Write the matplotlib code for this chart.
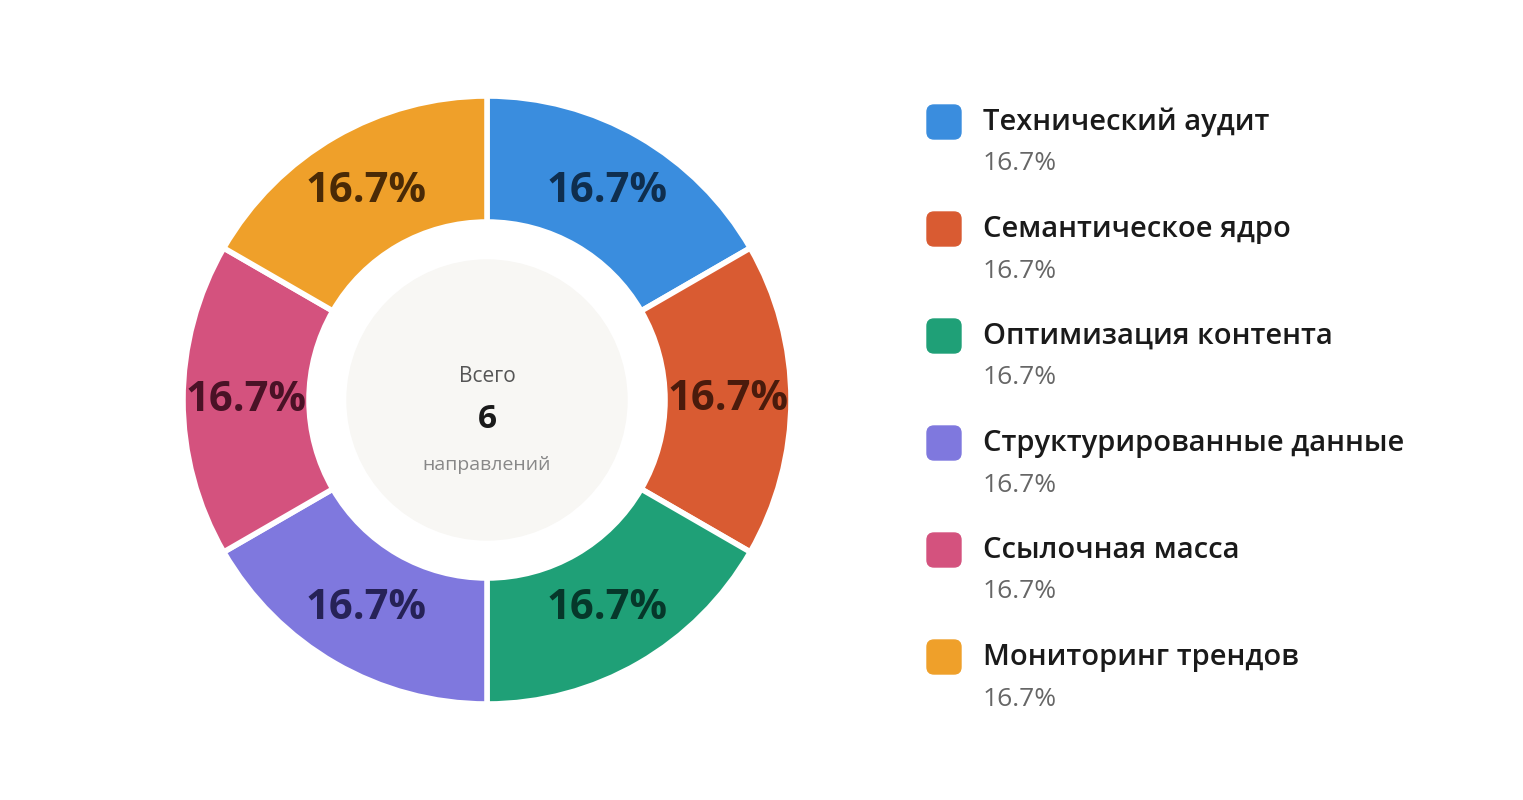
import matplotlib.pyplot as plt
from matplotlib.patches import Circle, FancyBboxPatch

# data
labels = ["Технический аудит", "Семантическое ядро", "Оптимизация контента",
          "Структурированные данные", "Ссылочная масса", "Мониторинг трендов"]
values = [1, 1, 1, 1, 1, 1]
colors = ["#3A8DDE", "#D95B32", "#1FA077", "#7F78DE", "#D4527E", "#EFA02A"]
label_colors = ["#0F2E4E", "#4A1B0C", "#06372A", "#262257", "#4A1226", "#4A2A06"]

plt.rcParams['font.family'] = ['Open Sans', 'DejaVu Sans']

fig = plt.figure(figsize=(15.23, 8), dpi=100)
ax = fig.add_axes([0, 0, 1, 1])
ax.set_xlim(0, 1523)
ax.set_ylim(0, 800)
ax.set_aspect('equal')
ax.axis('off')

total = sum(values)
wedges, texts = ax.pie(values, colors=colors, center=(487, 400), radius=304,
                       startangle=90, counterclock=False, labels=None,
                       wedgeprops=dict(width=126, edgecolor='white', linewidth=4))
ax.set_xlim(0, 1523)
ax.set_ylim(0, 800)

import numpy as np
ang = 90.0
for v, lc in zip(values, label_colors):
    span = 360.0 * v / total
    mid = np.deg2rad(ang - span / 2)
    ax.text(487 + 241 * np.cos(mid), 400 + 241 * np.sin(mid),
            f"{100 * v / total:.1f}%", ha='center', va='center',
            fontsize=30, fontweight='bold', color=lc)
    ang -= span

ax.add_patch(Circle((487, 400), 140, color='#F8F7F4', zorder=3))
ax.text(487, 424, "Всего", ha='center', va='center', fontsize=15, color='#555555', zorder=4)
ax.text(487, 381, str(total), ha='center', va='center', fontsize=24,
        fontweight='bold', color='#1a1a1a', zorder=4)
ax.text(487, 335, "направлений", ha='center', va='center', fontsize=14, color='#888888', zorder=4)

for i, (lab, v, c) in enumerate(zip(labels, values, colors)):
    y = 800 - 122 - i * 107
    ax.add_patch(FancyBboxPatch((927, y - 17), 34, 34,
                                boxstyle="round,pad=0,rounding_size=7", color=c))
    ax.text(983, y, lab, ha='left', va='center', fontsize=21,
            fontweight='semibold', color='#1a1a1a')
    ax.text(983, y - 42, f"{100 * v / total:.1f}%", ha='left', va='center',
            fontsize=19, color='#666666')

fig.savefig("out.png", dpi=100, facecolor='white')
